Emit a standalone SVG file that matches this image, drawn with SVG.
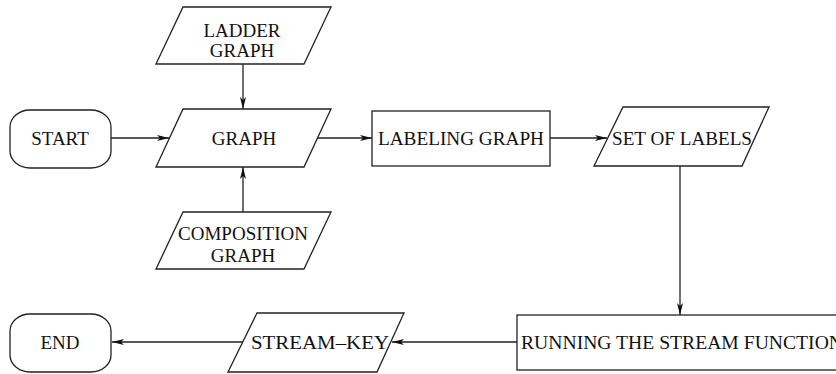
<svg xmlns="http://www.w3.org/2000/svg" width="836" height="374" viewBox="0 0 836 374">
<style>
.s{fill:#fff;stroke:#222;stroke-width:1.3}
.t{font-family:"Liberation Serif","Times New Roman",serif;font-size:19px;fill:#111;text-anchor:middle}
.c{fill:none;stroke:#222;stroke-width:1.3}
</style>
<defs>
<marker id="a" markerUnits="userSpaceOnUse" markerWidth="14" markerHeight="8" refX="12" refY="4" orient="auto">
<path d="M0,1 L12,4 L0,7 L3,4 z" fill="#111"/>
</marker>
</defs>
<rect width="836" height="374" fill="#fff"/>
<g id="connectors">
<line class="c" x1="243" y1="64" x2="243" y2="109" marker-end="url(#a)"/>
<line class="c" x1="243" y1="212" x2="243" y2="167" marker-end="url(#a)"/>
<line class="c" x1="111" y1="138" x2="169" y2="138" marker-end="url(#a)"/>
<line class="c" x1="318" y1="138" x2="372" y2="138" marker-end="url(#a)"/>
<line class="c" x1="550" y1="138" x2="607" y2="138" marker-end="url(#a)"/>
<line class="c" x1="680" y1="166" x2="680" y2="315" marker-end="url(#a)"/>
<line class="c" x1="517" y1="342" x2="392" y2="342" marker-end="url(#a)"/>
<line class="c" x1="243" y1="342" x2="112" y2="342" marker-end="url(#a)"/>
</g>
<g id="ladder">
<polygon class="s" points="183,7 331,7 304,64 156,64"/>
<text class="t" x="242" y="37">LADDER</text>
<text class="t" x="242" y="57">GRAPH</text>
</g>
<g id="start">
<rect class="s" x="10" y="110" width="101" height="58" rx="20" ry="17"/>
<text class="t" x="60" y="145">START</text>
</g>
<g id="graph">
<polygon class="s" points="183,109 331,109 304,167 156,167"/>
<text class="t" x="244" y="145">GRAPH</text>
</g>
<g id="composition">
<polygon class="s" points="183,212 331,212 304,269 156,269"/>
<text class="t" x="243" y="240">COMPOSITION</text>
<text class="t" x="243" y="262">GRAPH</text>
</g>
<g id="labeling">
<rect class="s" x="372" y="111" width="178" height="55"/>
<text class="t" x="461" y="145" textLength="166" lengthAdjust="spacingAndGlyphs">LABELING GRAPH</text>
</g>
<g id="setoflabels">
<polygon class="s" points="623,107 769,107 742,166 594,166"/>
<text class="t" x="682" y="145" textLength="140" lengthAdjust="spacingAndGlyphs">SET OF LABELS</text>
</g>
<g id="running">
<rect class="s" x="517" y="315" width="330" height="55"/>
<text class="t" x="521" y="349" style="text-anchor:start" textLength="322" lengthAdjust="spacingAndGlyphs">RUNNING THE STREAM FUNCTION</text>
</g>
<g id="streamkey">
<polygon class="s" points="257,313 404,313 377,372 228,372"/>
<text class="t" x="320" y="349" textLength="138" lengthAdjust="spacingAndGlyphs">STREAM–KEY</text>
</g>
<g id="end">
<rect class="s" x="10" y="314" width="101" height="58" rx="20" ry="17"/>
<text class="t" x="60" y="349">END</text>
</g>
</svg>
